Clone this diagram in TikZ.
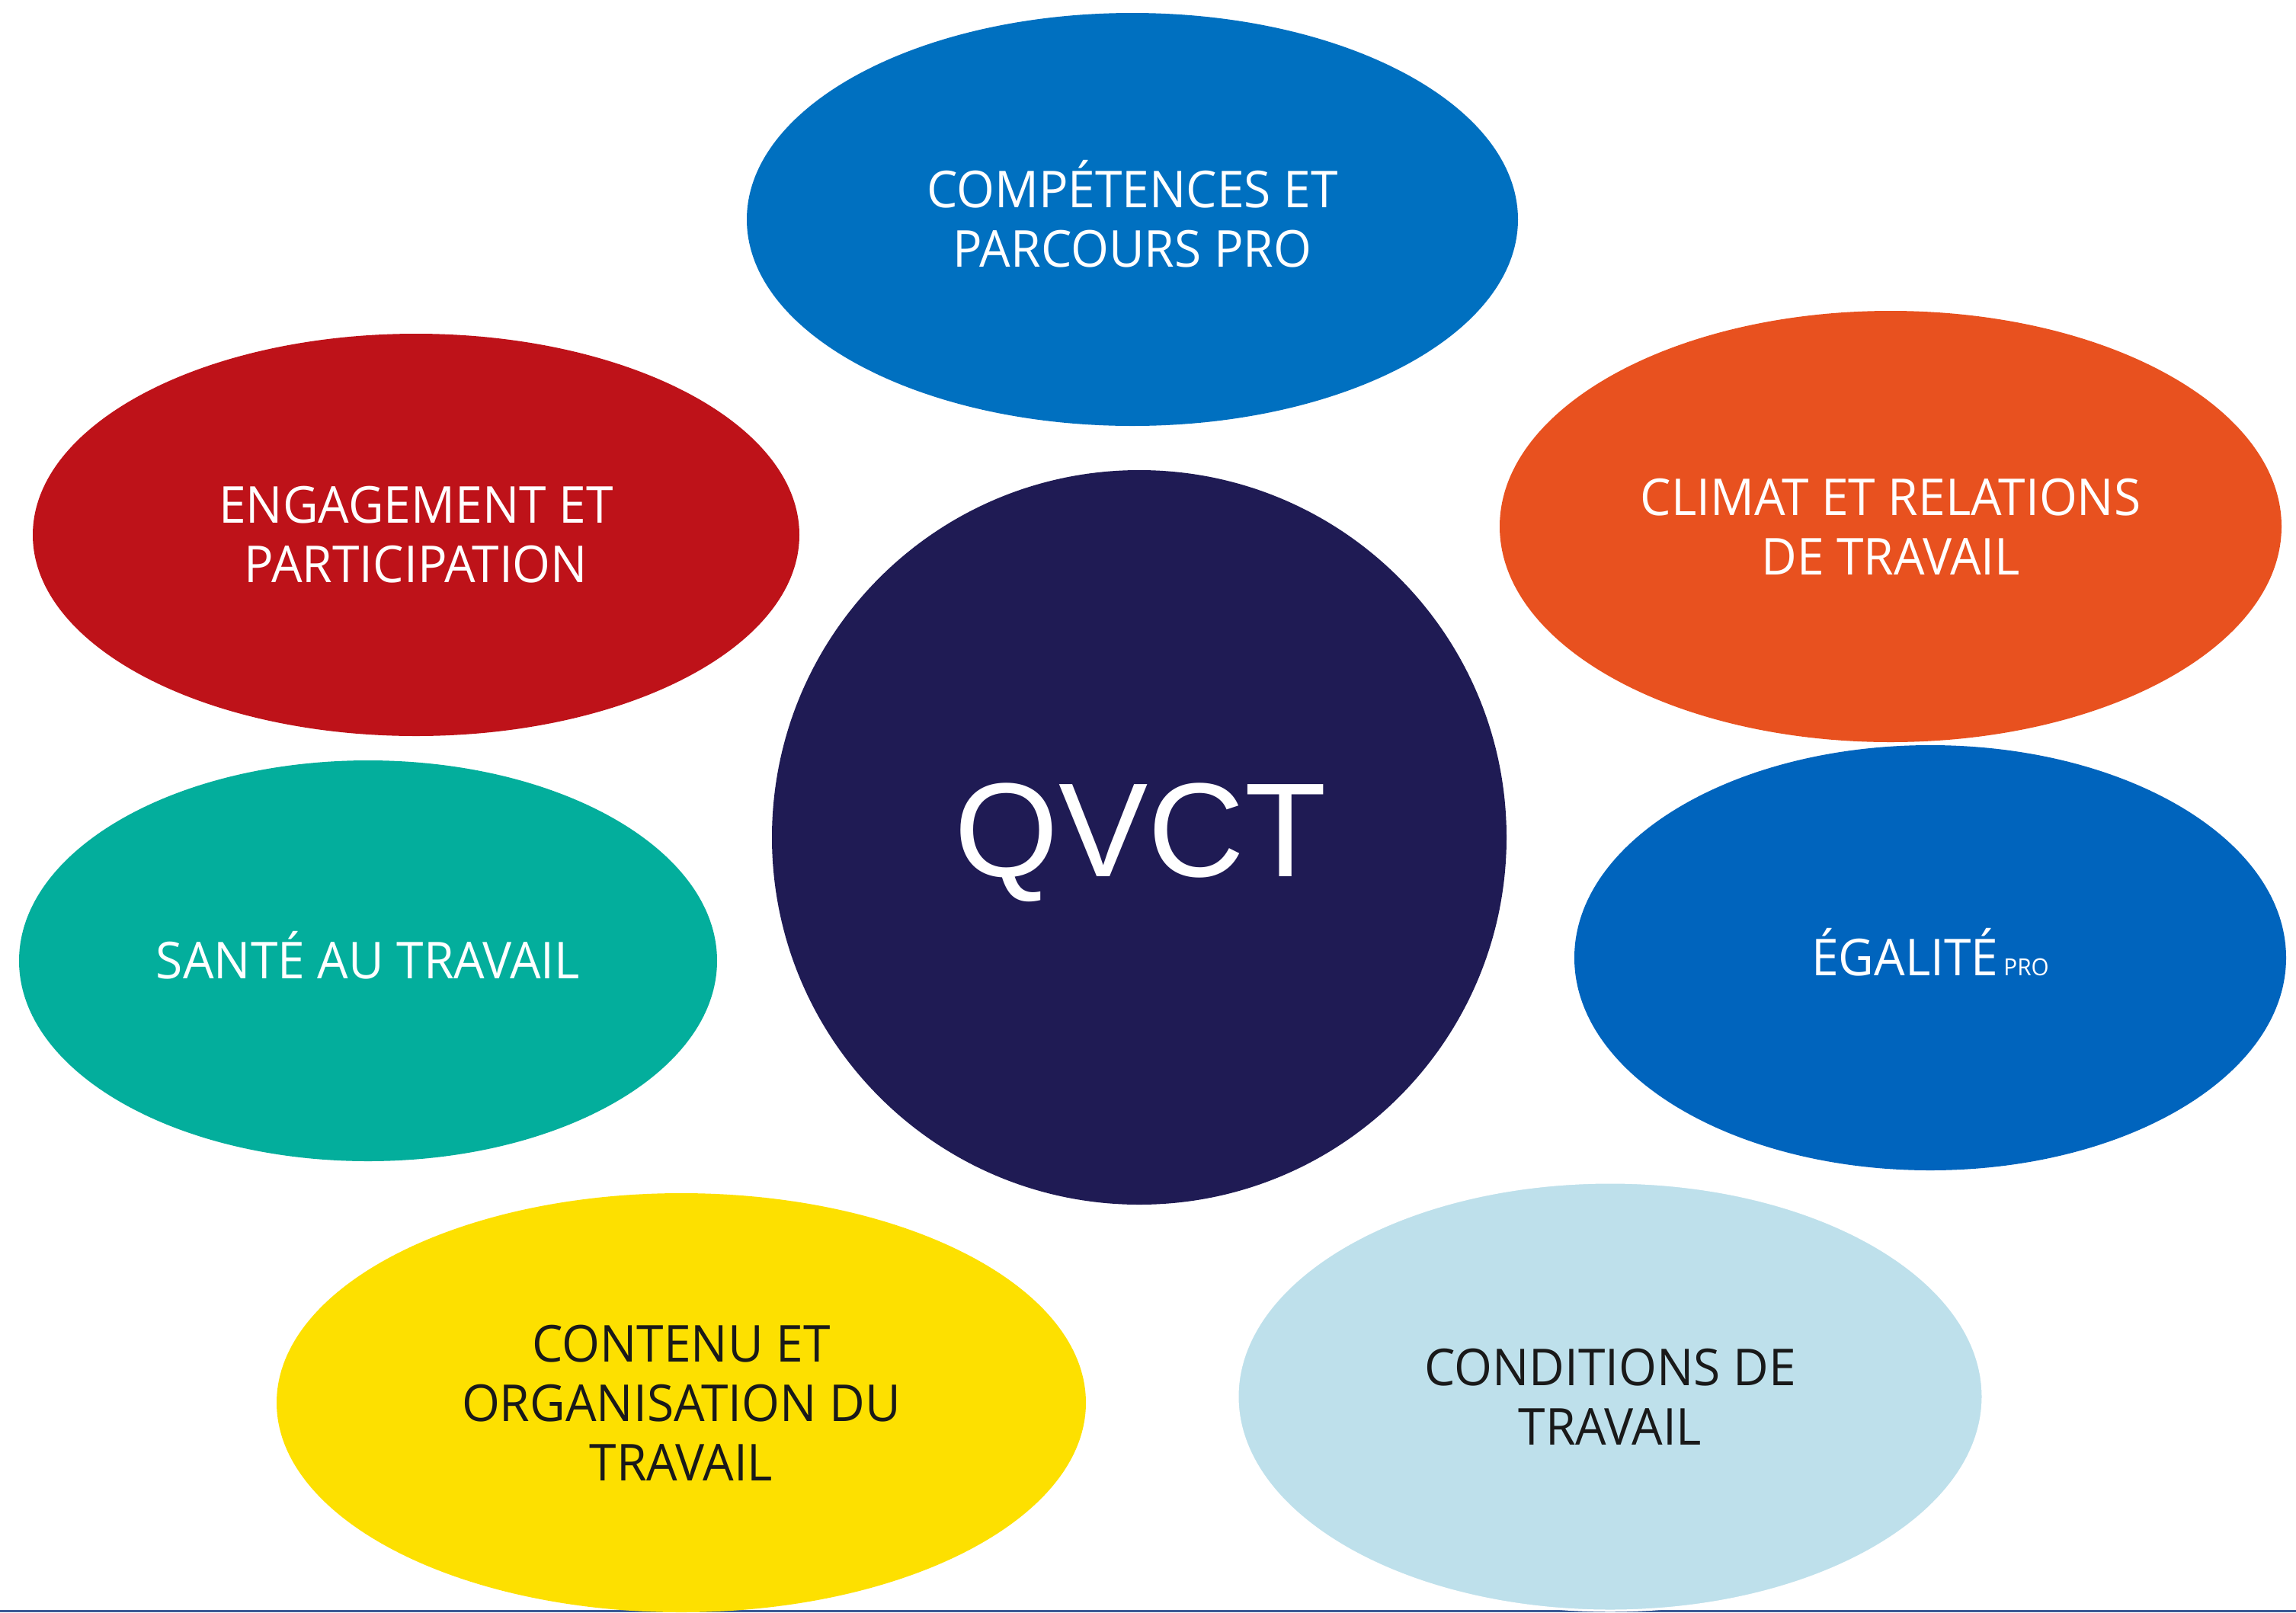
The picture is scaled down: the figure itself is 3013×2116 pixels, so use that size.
\documentclass[tikz,border=0pt]{standalone}
\usepackage{fontspec}
\setmainfont{Open Sans}[FakeStretch=0.96]
\newfontfamily\titlefont{Liberation Sans}
\usepackage{xcolor}
\usetikzlibrary{shapes.geometric}

\definecolor{compblue}{HTML}{0070C0}
\definecolor{engred}{HTML}{BE1219}
\definecolor{climorange}{HTML}{E8511F}
\definecolor{santeteal}{HTML}{03AE9C}
\definecolor{qvctnavy}{HTML}{1F1B54}
\definecolor{egalblue}{HTML}{0064BD}
\definecolor{contyellow}{HTML}{FDE000}
\definecolor{condblue}{HTML}{BEE0EB}
\definecolor{rulecol}{HTML}{3B5A95}

% accented capital that does not push the line down
\newcommand{\Eacute}{\smash{É}}

\begin{document}
\begin{tikzpicture}[
    x=0.1mm, y=-0.1mm,
    bubble/.style={ellipse, draw=none, inner sep=0pt, align=center, text=white,
        font=\fontsize{19}{22.2}\selectfont},
    darktext/.style={text=black!90}
]
\useasboundingbox (0,0) rectangle (3013,2116);

% rule along the bottom edge
\coordinate (rule-l) at (0,2114);
\coordinate (rule-r) at (3013,2114);
\draw[rulecol, line width=0.3mm] (rule-l) -- (rule-r);

\node[bubble, fill=compblue, minimum width=10.12cm, minimum height=5.42cm] (comp) at (1486,288) {COMP\Eacute TENCES ET\\PARCOURS PRO};
\node[bubble, fill=engred, minimum width=10.06cm, minimum height=5.28cm] (eng) at (546,702) {ENGAGEMENT ET\\PARTICIPATION};
\node[bubble, fill=climorange, minimum width=10.26cm, minimum height=5.66cm] (clim) at (2481,691) {CLIMAT ET RELATIONS\\DE TRAVAIL};
\node[bubble, fill=santeteal, minimum width=9.16cm, minimum height=5.26cm] (sante) at (483,1261) {SANT\Eacute{} AU TRAVAIL};
\node[bubble, fill=egalblue, minimum width=9.34cm, minimum height=5.58cm] (egal) at (2533,1257) {\Eacute GALIT\Eacute\hspace{2pt}{\fontsize{8.8}{10}\selectfont PRO}};
\node[bubble, darktext, fill=contyellow, minimum width=10.62cm, minimum height=5.50cm] (cont) at (894,1841) {CONTENU ET\\ORGANISATION DU\\TRAVAIL};
\node[bubble, darktext, fill=condblue, draw=white, line width=0.3mm, minimum width=9.78cm, minimum height=5.62cm] (cond) at (2113,1833) {CONDITIONS DE\\TRAVAIL};

% centre circle
\node[circle, fill=qvctnavy, inner sep=0pt, minimum size=9.64cm] (qvct) at (1495,1099) {};
\node[text=white, font=\titlefont\fontsize{50}{55}\selectfont, anchor=base] (qvct-label) at (1497,1150) {QVCT};
\end{tikzpicture}
\end{document}
